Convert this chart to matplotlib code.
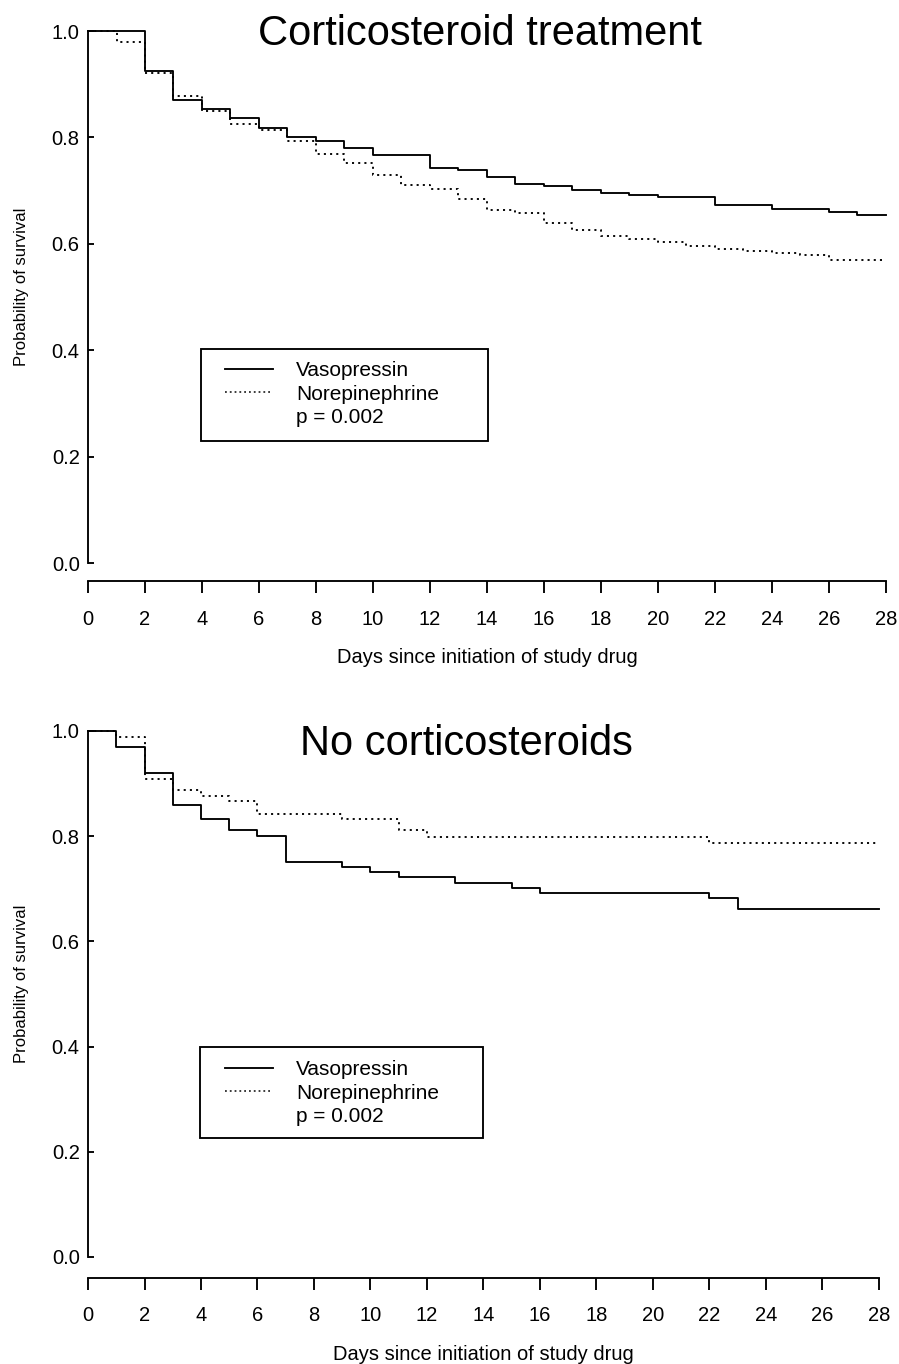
"""
Kaplan-Meier survival curves, vasopressin vs norepinephrine,
split by corticosteroid use.
"""

import matplotlib.pyplot as plt
from matplotlib.lines import Line2D
from matplotlib.patches import Rectangle

plt.rcParams['font.family'] = ['Liberation Sans', 'DejaVu Sans']

W, H = 899, 1364

# Data (days, probability of survival)
steroid_vaso_days = [0, 2, 3, 4, 5, 6, 7, 8, 9, 10, 12, 13, 14, 15, 16, 17, 18, 19, 20, 22, 24, 26, 27, 28]
steroid_vaso_surv = [1.0, 0.925, 0.871, 0.853, 0.837, 0.818, 0.800, 0.794, 0.781, 0.767, 0.743, 0.739,
                     0.726, 0.713, 0.709, 0.702, 0.695, 0.692, 0.688, 0.672, 0.665, 0.659, 0.655, 0.655]
steroid_norepi_days = [0, 1, 2, 3, 4, 5, 6, 7, 8, 9, 10, 11, 12, 13, 14, 15, 16, 17, 18, 19, 20,
                       21, 22, 23, 24, 25, 26, 28]
steroid_norepi_surv = [1.0, 0.980, 0.921, 0.878, 0.850, 0.826, 0.814, 0.793, 0.769, 0.752, 0.729,
                       0.711, 0.703, 0.684, 0.664, 0.657, 0.640, 0.626, 0.615, 0.609, 0.603,
                       0.596, 0.590, 0.586, 0.582, 0.579, 0.570, 0.570]

nosteroid_vaso_days = [0, 1, 2, 3, 4, 5, 6, 7, 9, 10, 11, 13, 15, 16, 22, 23, 28]
nosteroid_vaso_surv = [1.0, 0.970, 0.920, 0.860, 0.832, 0.811, 0.800, 0.751, 0.742, 0.732, 0.722,
                       0.711, 0.702, 0.692, 0.683, 0.662, 0.662]
nosteroid_norepi_days = [0, 1, 2, 3, 4, 5, 6, 9, 11, 12, 22, 28]
nosteroid_norepi_surv = [1.0, 0.989, 0.909, 0.887, 0.876, 0.866, 0.842, 0.832, 0.811, 0.798, 0.788, 0.788]

x_ticks = list(range(0, 29, 2))
y_ticks = [0.0, 0.2, 0.4, 0.6, 0.8, 1.0]
legend_labels = ['Vasopressin', 'Norepinephrine', 'p = 0.002']

LW = 1.35
DOTS = (0, (1.1, 2.2))


def px_rect(l, t, r, b):
    # pixel box (from top-left) -> figure fraction [left, bottom, width, height]
    return [l / W, 1 - b / H, (r - l) / W, (b - t) / H]


def draw_panel(fig, rect, title, title_xy, vaso, norepi, box, legend_xy, spine_offset):
    ax = fig.add_axes(px_rect(*rect))
    ax.step(vaso[0], vaso[1], where='post', color='black', lw=LW, clip_on=False)
    ax.step(norepi[0], norepi[1], where='post', color='black', lw=LW, linestyle=DOTS, clip_on=False)

    ax.set_xlim(0, 28)
    ax.set_ylim(0, 1)
    ax.set_xticks(x_ticks)
    ax.set_yticks(y_ticks)
    ax.set_yticklabels([f'{v:.1f}' for v in y_ticks])
    ax.spines['top'].set_visible(False)
    ax.spines['right'].set_visible(False)
    ax.spines['left'].set_linewidth(LW)
    ax.spines['bottom'].set_linewidth(LW)
    ax.spines['bottom'].set_position(('outward', spine_offset))
    ax.tick_params(axis='y', direction='in', length=4.3, width=LW, pad=6, labelsize=14.5)
    ax.tick_params(axis='x', direction='out', length=8.6, width=LW, pad=12, labelsize=14.5)

    ax.set_ylabel('Probability of survival', fontsize=12)
    ax.yaxis.set_label_coords(-0.074, 0.52)
    ax.set_xlabel('Days since initiation of study drug', fontsize=14.5, labelpad=14)

    fig.text(title_xy[0] / W, 1 - title_xy[1] / H, title, fontsize=30,
             ha='center', va='baseline')

    # legend box + entries
    l, t, r, b = box
    fig.add_artist(Rectangle((l / W, 1 - b / H), (r - l) / W, (b - t) / H,
                             transform=fig.transFigure, fill=False, lw=LW, ec='black'))
    handles = [Line2D([], [], color='black', lw=LW),
               Line2D([], [], color='black', lw=LW * 0.8, linestyle=(0, (1.2, 2.0))),
               Line2D([], [], color='none')]
    ax.legend(handles, legend_labels, loc='upper left',
              bbox_to_anchor=(legend_xy[0] / W, 1 - legend_xy[1] / H),
              bbox_transform=fig.transFigure, frameon=False, borderpad=0, borderaxespad=0,
              handlelength=2.3, handletextpad=1.1, labelspacing=0.22, fontsize=15)
    return ax


fig = plt.figure(figsize=(W / 100, H / 100), dpi=100)

draw_panel(fig, (88, 31, 886, 563), 'Corticosteroid treatment', (480, 45),
           (steroid_vaso_days, steroid_vaso_surv), (steroid_norepi_days, steroid_norepi_surv),
           (201, 349, 488, 441), (225, 361), 13)

draw_panel(fig, (88, 731, 879, 1257), 'No corticosteroids', (466, 755),
           (nosteroid_vaso_days, nosteroid_vaso_surv), (nosteroid_norepi_days, nosteroid_norepi_surv),
           (200, 1047, 483, 1138), (225, 1060), 15)

plt.savefig('out.png', dpi=100)
